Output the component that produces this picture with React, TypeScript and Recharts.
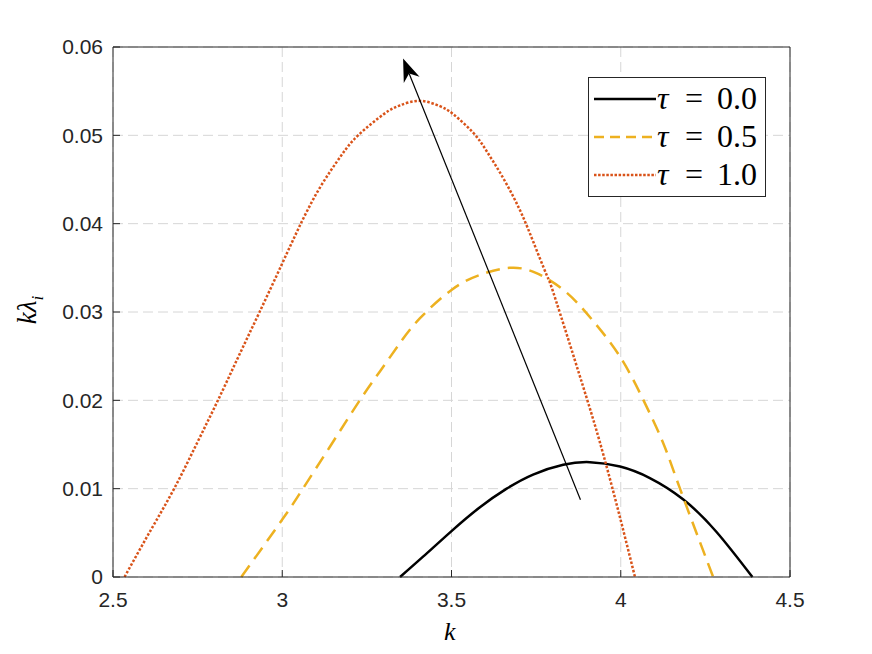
import { LineChart, Line, XAxis, YAxis, CartesianGrid, ReferenceLine, Legend } from 'recharts';

// growth-rate curves k*lambda_i versus k
const tau0 = [
  { k: 3.348, v: 0 },
  { k: 3.416, v: 0.0023 },
  { k: 3.5, v: 0.0052 },
  { k: 3.584, v: 0.0079 },
  { k: 3.663, v: 0.01 },
  { k: 3.741, v: 0.0116 },
  { k: 3.83, v: 0.0127 },
  { k: 3.909, v: 0.013 },
  { k: 3.998, v: 0.0125 },
  { k: 4.086, v: 0.0112 },
  { k: 4.184, v: 0.0088 },
  { k: 4.283, v: 0.0051 },
  { k: 4.389, v: 0 },
];

const tau05 = [
  { k: 2.879, v: 0 },
  { k: 3.0, v: 0.0065 },
  { k: 3.061, v: 0.01 },
  { k: 3.145, v: 0.015 },
  { k: 3.229, v: 0.02 },
  { k: 3.289, v: 0.0233 },
  { k: 3.348, v: 0.0265 },
  { k: 3.407, v: 0.0293 },
  { k: 3.5, v: 0.0325 },
  { k: 3.584, v: 0.0342 },
  { k: 3.672, v: 0.035 },
  { k: 3.751, v: 0.0344 },
  { k: 3.84, v: 0.0322 },
  { k: 3.918, v: 0.029 },
  { k: 3.997, v: 0.025 },
  { k: 4.066, v: 0.0201 },
  { k: 4.125, v: 0.0152 },
  { k: 4.175, v: 0.01 },
  { k: 4.273, v: 0 },
];

const tau1 = [
  { k: 2.534, v: 0 },
  { k: 2.61, v: 0.0052 },
  { k: 2.682, v: 0.0101 },
  { k: 2.75, v: 0.0153 },
  { k: 2.81, v: 0.02 },
  { k: 2.87, v: 0.0249 },
  { k: 2.933, v: 0.03 },
  { k: 3.0, v: 0.0355 },
  { k: 3.051, v: 0.0397 },
  { k: 3.11, v: 0.044 },
  { k: 3.174, v: 0.0477 },
  { k: 3.224, v: 0.05 },
  { k: 3.3, v: 0.0524 },
  { k: 3.348, v: 0.0534 },
  { k: 3.407, v: 0.0539 },
  { k: 3.466, v: 0.0533 },
  { k: 3.505, v: 0.0524 },
  { k: 3.564, v: 0.0503 },
  { k: 3.604, v: 0.0482 },
  { k: 3.643, v: 0.0458 },
  { k: 3.682, v: 0.0431 },
  { k: 3.712, v: 0.0407 },
  { k: 3.741, v: 0.038 },
  { k: 3.781, v: 0.0342 },
  { k: 3.8, v: 0.0323 },
  { k: 3.85, v: 0.0263 },
  { k: 3.899, v: 0.0203 },
  { k: 3.938, v: 0.0153 },
  { k: 3.988, v: 0.0082 },
  { k: 4.042, v: 0 },
];

const xTicks = [2.5, 3, 3.5, 4, 4.5];
const yTicks = [0, 0.01, 0.02, 0.03, 0.04, 0.05, 0.06];
const arrowTail = { x: 3.881, y: 0.00875 };
const arrowTip = { x: 3.357, y: 0.0587 };

const legendItems = [
  { label: '0.0', color: '#000000', dash: undefined },
  { label: '0.5', color: '#EDB120', dash: '10 6' },
  { label: '1.0', color: '#D95319', dash: '2.5 1.6' },
];

const axisColor = '#262626';
const tickFont = { fill: axisColor, fontSize: 21, fontFamily: 'Liberation Sans, Arial, sans-serif' };

const Arrow = (props: any) => {
  const { x1, y1, x2, y2 } = props;
  const dx = x2 - x1;
  const dy = y2 - y1;
  const len = Math.sqrt(dx * dx + dy * dy);
  const ux = dx / len;
  const uy = dy / len;
  const px = -uy;
  const py = ux;
  const L = 23;
  const W = 8.5;
  const bx = x2 - ux * L;
  const by = y2 - uy * L;
  const nx = x2 - ux * L * 0.7;
  const ny = y2 - uy * L * 0.7;
  const head = `M${x2},${y2} L${bx + px * W},${by + py * W} L${nx},${ny} L${bx - px * W},${by - py * W} Z`;
  return (
    <g>
      <line x1={x1} y1={y1} x2={nx} y2={ny} stroke="#000" strokeWidth={1.2} />
      <path d={head} fill="#000" stroke="none" />
    </g>
  );
};

const renderLegend = () => (
  <svg width={179} height={121} style={{ display: 'block' }}>
    <rect x={0.5} y={0.5} width={177} height={119} fill="#fff" stroke={axisColor} strokeWidth={1} />
    {legendItems.map((it, i) => {
      const cy = 22 + i * 38;
      return (
        <g key={it.label}>
          <line x1={6} y1={cy} x2={68} y2={cy} stroke={it.color} strokeWidth={2.5} strokeDasharray={it.dash} />
          <text y={cy + 10} fontSize={32} fontFamily="Liberation Serif, DejaVu Serif, serif" fill="#000">
            <tspan x={69} fontStyle="italic">τ</tspan>
            <tspan x={97}>=</tspan>
            <tspan x={129}>{it.label}</tspan>
          </text>
        </g>
      );
    })}
  </svg>
);

export default function App() {
  return (
    <div style={{ position: 'absolute', left: 0, top: 0, width: 872, height: 654, background: '#fff' }}>
      <LineChart width={872} height={654} margin={{ top: 37, right: 72, left: 53, bottom: 47 }}>
        <CartesianGrid
          xAxisId="b"
          yAxisId="l"
          stroke="#d6d6d6"
          strokeDasharray="10 5"
          strokeWidth={1}
          horizontalValues={yTicks}
          verticalValues={xTicks}
        />
        <XAxis
          xAxisId="b"
          type="number"
          dataKey="k"
          domain={[2.5, 4.5]}
          ticks={xTicks}
          allowDataOverflow
          height={30}
          stroke={axisColor}
          tickSize={-7}
          tickMargin={22}
          tick={tickFont}
          tickFormatter={(v: number) => String(v)}
        />
        <XAxis
          xAxisId="t"
          orientation="top"
          type="number"
          dataKey="k"
          domain={[2.5, 4.5]}
          ticks={xTicks}
          height={10}
          stroke={axisColor}
          tickSize={-7}
          tickFormatter={() => ''}
        />
        <YAxis
          yAxisId="l"
          type="number"
          domain={[0, 0.06]}
          ticks={yTicks}
          width={60}
          stroke={axisColor}
          tickSize={-7}
          tickMargin={17}
          tick={tickFont}
          tickFormatter={(v: number) => String(v)}
        />
        <YAxis
          yAxisId="r"
          orientation="right"
          type="number"
          domain={[0, 0.06]}
          ticks={yTicks}
          width={10}
          stroke={axisColor}
          tickSize={-7}
          tickFormatter={() => ''}
        />
        <Line xAxisId="b" yAxisId="l" data={tau0} dataKey="v" type="natural" stroke="#000000" strokeWidth={2.5} dot={false} isAnimationActive={false} />
        <Line xAxisId="b" yAxisId="l" data={tau05} dataKey="v" type="natural" stroke="#EDB120" strokeWidth={2.5} strokeDasharray="14 8" dot={false} isAnimationActive={false} />
        <Line xAxisId="b" yAxisId="l" data={tau1} dataKey="v" type="natural" stroke="#D95319" strokeWidth={2.5} strokeDasharray="2.5 1.8" dot={false} isAnimationActive={false} />
        <ReferenceLine xAxisId="b" yAxisId="l" segment={[arrowTail, arrowTip]} shape={Arrow} ifOverflow="visible" />
        <Legend
          layout="horizontal"
          verticalAlign="middle"
          align="center"
          content={renderLegend}
          wrapperStyle={{ left: 588, top: 77, width: 179, height: 121 }}
        />
      </LineChart>
      <div
        style={{
          position: 'absolute',
          left: 444,
          top: 617,
          fontFamily: 'Liberation Serif, DejaVu Serif, serif',
          fontStyle: 'italic',
          fontSize: 26,
          color: '#000',
        }}
      >
        k
      </div>
      <div
        style={{
          position: 'absolute',
          left: 30,
          top: 310,
          transform: 'translate(-50%, -50%) rotate(-90deg)',
          fontFamily: 'Liberation Serif, DejaVu Serif, serif',
          fontSize: 27,
          color: '#000',
          whiteSpace: 'nowrap',
        }}
      >
        <i>kλ</i>
        <sub style={{ fontSize: 17 }}><i>i</i></sub>
      </div>
    </div>
  );
}
